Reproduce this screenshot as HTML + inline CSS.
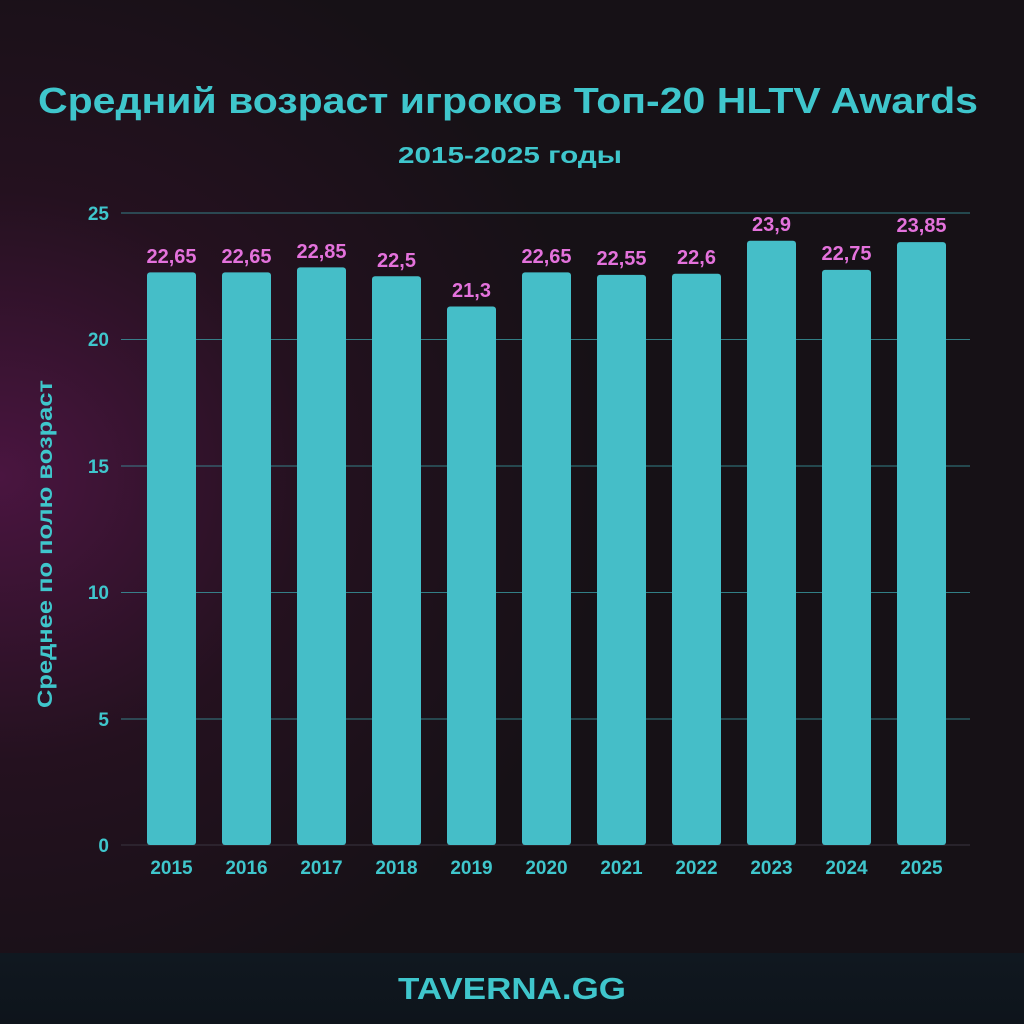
<!DOCTYPE html>
<html><head><meta charset="utf-8"><style>
html,body{margin:0;padding:0;width:1024px;height:1024px;overflow:hidden;background:#150f15}
</style></head><body>
<svg width="1024" height="1024" xmlns="http://www.w3.org/2000/svg" font-family="Liberation Sans, DejaVu Sans, sans-serif">
<defs>
<radialGradient id="g1" cx="0" cy="0.5" r="0.6">
<stop offset="0" stop-color="#4a1540"/><stop offset="0.5" stop-color="#24111f"/><stop offset="1" stop-color="#161116"/>
</radialGradient>
<linearGradient id="g2" x1="0" y1="0" x2="0" y2="1">
<stop offset="0" stop-color="#101820"/><stop offset="1" stop-color="#0e141b"/>
</linearGradient>
</defs>
<rect width="1024" height="953" fill="url(#g1)"/>
<rect y="953" width="1024" height="71" fill="url(#g2)"/>
<g stroke="#3aa3aa" stroke-width="1" opacity="0.75">
<line x1="121" y1="213" x2="970" y2="213"/>
<line x1="121" y1="339.5" x2="970" y2="339.5"/>
<line x1="121" y1="466" x2="970" y2="466"/>
<line x1="121" y1="592.5" x2="970" y2="592.5"/>
<line x1="121" y1="719" x2="970" y2="719"/>
</g>
<line x1="121" y1="845" x2="970" y2="845" stroke="#3a3540" stroke-width="1"/>
<text x="38" y="113" font-size="36" font-weight="bold" fill="#3fc6cc" textLength="940" lengthAdjust="spacingAndGlyphs">Средний возраст игроков Топ-20 HLTV Awards</text>
<text x="398" y="163" font-size="23" font-weight="bold" fill="#3fc6cc" textLength="224" lengthAdjust="spacingAndGlyphs">2015-2025 годы</text>
<g font-size="19" font-weight="bold" fill="#3fc6cc" text-anchor="end">
<text x="109" y="220">25</text><text x="109" y="346">20</text><text x="109" y="473">15</text>
<text x="109" y="599">10</text><text x="109" y="726">5</text><text x="109" y="852">0</text>
</g>
<text transform="translate(52,708) rotate(-90)" font-size="21" font-weight="bold" fill="#3fc6cc" textLength="328" lengthAdjust="spacingAndGlyphs">Среднее по полю возраст</text>
<g fill="#45bec8">
<rect x="147" y="272.4" width="49" height="572.6" rx="3"/>
<rect x="222" y="272.4" width="49" height="572.6" rx="3"/>
<rect x="297" y="267.4" width="49" height="577.6" rx="3"/>
<rect x="372" y="276.2" width="49" height="568.8" rx="3"/>
<rect x="447" y="306.5" width="49" height="538.5" rx="3"/>
<rect x="522" y="272.4" width="49" height="572.6" rx="3"/>
<rect x="597" y="274.9" width="49" height="570.1" rx="3"/>
<rect x="672" y="273.7" width="49" height="571.3" rx="3"/>
<rect x="747" y="240.8" width="49" height="604.2" rx="3"/>
<rect x="822" y="269.9" width="49" height="575.1" rx="3"/>
<rect x="897" y="242.1" width="49" height="602.9" rx="3"/>
</g>
<g font-size="20" font-weight="bold" fill="#e472dc" text-anchor="middle">
<text x="171.5" y="263">22,65</text><text x="246.5" y="263">22,65</text><text x="321.5" y="258">22,85</text>
<text x="396.5" y="267">22,5</text><text x="471.5" y="297">21,3</text><text x="546.5" y="263">22,65</text>
<text x="621.5" y="265">22,55</text><text x="696.5" y="264">22,6</text><text x="771.5" y="231">23,9</text>
<text x="846.5" y="260">22,75</text><text x="921.5" y="232">23,85</text>
</g>
<g font-size="19" font-weight="bold" fill="#3fc6cc" text-anchor="middle">
<text x="171.5" y="874">2015</text><text x="246.5" y="874">2016</text><text x="321.5" y="874">2017</text>
<text x="396.5" y="874">2018</text><text x="471.5" y="874">2019</text><text x="546.5" y="874">2020</text>
<text x="621.5" y="874">2021</text><text x="696.5" y="874">2022</text><text x="771.5" y="874">2023</text>
<text x="846.5" y="874">2024</text><text x="921.5" y="874">2025</text>
</g>
<text x="398" y="999" font-size="31" font-weight="bold" fill="#3fc6cc" textLength="228" lengthAdjust="spacingAndGlyphs">TAVERNA.GG</text>
</svg>
</body></html>
